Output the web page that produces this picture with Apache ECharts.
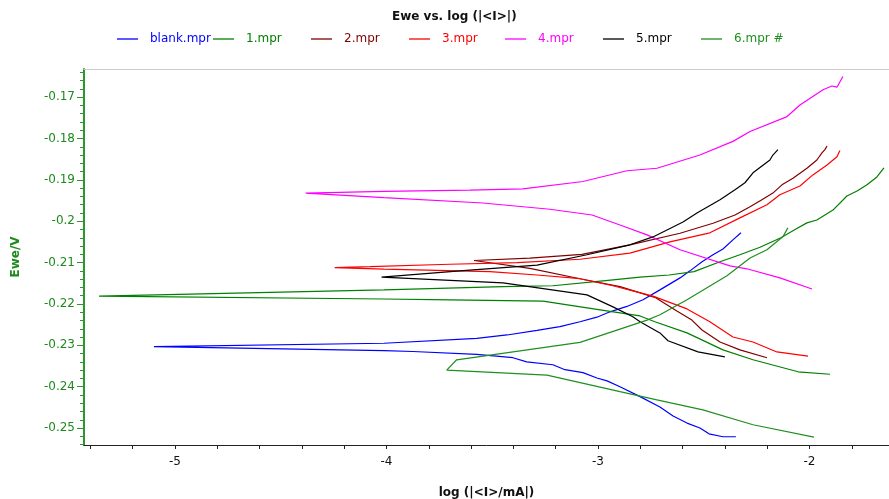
<!DOCTYPE html>
<html><head><meta charset="utf-8">
<script src="https://cdn.jsdelivr.net/npm/echarts@6/dist/echarts.min.js"></script>
<style>html,body{margin:0;padding:0;background:#fff}#c{width:889px;height:499px}</style>
</head><body><div id="c"></div>
<script>
// ---- data (log|I| in mA, Ewe in V) ----
const seriesNames = ['blank.mpr','1.mpr','2.mpr','3.mpr','4.mpr','5.mpr','6.mpr #'];
const seriesColors = ['#0000ff','#008000','#800000','#ff0000','#ff00ff','#000000','#1f8f1f'];

const blank = [[-2.348,-0.2521],[-2.409,-0.2521],[-2.475,-0.2514],[-2.518,-0.2500],[-2.579,-0.2488],[-2.645,-0.2471],[-2.707,-0.2449],[-2.801,-0.2424],[-2.896,-0.2400],[-2.957,-0.2386],[-3.005,-0.2379],[-3.071,-0.2366],[-3.156,-0.2359],[-3.213,-0.2347],[-3.337,-0.2340],[-3.402,-0.2330],[-3.573,-0.2322],[-3.875,-0.2315],[-4.012,-0.2313],[-5.099,-0.2303],[-4.012,-0.2295],[-3.573,-0.2283],[-3.430,-0.2275],[-3.288,-0.2264],[-3.180,-0.2255],[-3.085,-0.2243],[-3.005,-0.2232],[-2.943,-0.2219],[-2.863,-0.2206],[-2.787,-0.2190],[-2.707,-0.2166],[-2.612,-0.2137],[-2.565,-0.2120],[-2.508,-0.2098],[-2.456,-0.2081],[-2.409,-0.2067],[-2.362,-0.2045],[-2.324,-0.2028]];

const mpr1 = [[-1.903,-0.2370],[-2.054,-0.2364],[-2.267,-0.2335],[-2.409,-0.2311],[-2.579,-0.2270],[-2.731,-0.2243],[-2.801,-0.2229],[-2.943,-0.2218],[-3.260,-0.2193],[-3.700,-0.2190],[-4.012,-0.2188],[-5.359,-0.2181],[-4.012,-0.2166],[-3.449,-0.2158],[-3.213,-0.2156],[-2.976,-0.2144],[-2.801,-0.2135],[-2.664,-0.2130],[-2.546,-0.2122],[-2.423,-0.2098],[-2.329,-0.2081],[-2.234,-0.2063],[-2.135,-0.2040],[-2.064,-0.2019],[-2.012,-0.2004],[-1.965,-0.1997],[-1.889,-0.1973],[-1.823,-0.1939],[-1.775,-0.1927],[-1.728,-0.1912],[-1.681,-0.1893],[-1.648,-0.1871]];

const mpr2 = [[-2.201,-0.2330],[-2.329,-0.2311],[-2.423,-0.2292],[-2.508,-0.2263],[-2.556,-0.2239],[-2.627,-0.2217],[-2.731,-0.2184],[-2.896,-0.2158],[-3.085,-0.2139],[-3.322,-0.2114],[-3.586,-0.2095],[-3.322,-0.2089],[-3.076,-0.2080],[-2.849,-0.2057],[-2.612,-0.2029],[-2.456,-0.2005],[-2.352,-0.1985],[-2.281,-0.1965],[-2.225,-0.1948],[-2.173,-0.1932],[-2.130,-0.1912],[-2.078,-0.1896],[-2.012,-0.1872],[-1.965,-0.1852],[-1.941,-0.1835],[-1.927,-0.1827],[-1.917,-0.1818]];

const mpr3 = [[-2.007,-0.2326],[-2.154,-0.2316],[-2.267,-0.2292],[-2.362,-0.2280],[-2.471,-0.2243],[-2.579,-0.2212],[-2.740,-0.2181],[-2.929,-0.2156],[-3.085,-0.2139],[-3.288,-0.2130],[-3.511,-0.2122],[-4.012,-0.2116],[-4.245,-0.2112],[-4.078,-0.2110],[-3.700,-0.2104],[-3.383,-0.2100],[-3.085,-0.2092],[-2.849,-0.2077],[-2.660,-0.2050],[-2.471,-0.2028],[-2.329,-0.1992],[-2.201,-0.1960],[-2.140,-0.1936],[-2.045,-0.1915],[-1.984,-0.1888],[-1.917,-0.1864],[-1.870,-0.1844],[-1.856,-0.1829]];

const mpr4 = [[-1.988,-0.2164],[-2.140,-0.2137],[-2.296,-0.2115],[-2.376,-0.2108],[-2.612,-0.2069],[-2.768,-0.2033],[-2.896,-0.2009],[-3.028,-0.1985],[-3.227,-0.1971],[-3.544,-0.1956],[-4.012,-0.1943],[-4.382,-0.1932],[-4.012,-0.1928],[-3.605,-0.1925],[-3.355,-0.1922],[-3.071,-0.1904],[-2.863,-0.1878],[-2.721,-0.1872],[-2.518,-0.1840],[-2.362,-0.1807],[-2.281,-0.1783],[-2.106,-0.1747],[-2.045,-0.1719],[-1.936,-0.1682],[-1.894,-0.1673],[-1.870,-0.1676],[-1.842,-0.1650]];

const mpr5 = [[-2.400,-0.2328],[-2.527,-0.2316],[-2.669,-0.2289],[-2.707,-0.2270],[-2.801,-0.2243],[-2.835,-0.2231],[-2.929,-0.2207],[-3.052,-0.2178],[-3.449,-0.2149],[-4.023,-0.2135],[-3.653,-0.2120],[-3.288,-0.2106],[-3.052,-0.2081],[-2.849,-0.2057],[-2.740,-0.2038],[-2.598,-0.2002],[-2.532,-0.1980],[-2.423,-0.1948],[-2.352,-0.1924],[-2.305,-0.1907],[-2.267,-0.1883],[-2.187,-0.1852],[-2.173,-0.1840],[-2.149,-0.1827]];

const mpr6 = [[-1.979,-0.2522],[-2.267,-0.2492],[-2.504,-0.2456],[-2.721,-0.2432],[-2.896,-0.2412],[-3.241,-0.2372],[-3.715,-0.2360],[-3.668,-0.2335],[-3.085,-0.2293],[-2.896,-0.2261],[-2.768,-0.2239],[-2.707,-0.2226],[-2.579,-0.2190],[-2.390,-0.2132],[-2.281,-0.2089],[-2.201,-0.2069],[-2.125,-0.2037],[-2.102,-0.2016]];

const allData = [blank, mpr1, mpr2, mpr3, mpr4, mpr5, mpr6];

const xLabelValues = [-5, -4, -3, -2];
const xTickValues = [-5.4,-5.2,-5,-4.8,-4.6,-4.4,-4.2,-4,-3.8,-3.6,-3.4,-3.2,-3,-2.8,-2.6,-2.4,-2.2,-2,-1.8];
const yLabelValues = [-0.25,-0.24,-0.23,-0.22,-0.21,-0.2,-0.19,-0.18,-0.17];
const yMinorValues = [-0.254,-0.252,-0.25,-0.248,-0.246,-0.244,-0.242,-0.24,-0.238,-0.236,-0.234,-0.232,-0.23,-0.228,-0.226,-0.224,-0.222,-0.22,-0.218,-0.216,-0.214,-0.212,-0.21,-0.208,-0.206,-0.204,-0.202,-0.2,-0.198,-0.196,-0.194,-0.192,-0.19,-0.188,-0.186,-0.184,-0.182,-0.18,-0.178,-0.176,-0.174,-0.172,-0.17,-0.168,-0.166,-0.164];

const X_MIN = -5.43, X_MAX = -1.624, Y_MIN = -0.2541, Y_MAX = -0.1632;
const FONT = 'DejaVu Sans';
const GREEN_AXIS = '#2f962f';
const GREEN_TEXT = '#1e8a1e';

const legendLeft = [117, 213, 311, 409, 505, 603, 701];

const chart = echarts.init(document.getElementById('c'), null, {renderer: 'canvas'});
const option = {
  animation: false,
  backgroundColor: '#ffffff',
  title: {
    text: 'Ewe vs. log (|<I>|)', left: 392, top: 11, padding: 0,
    textStyle: {fontFamily: FONT, fontSize: 12, fontWeight: 'bold', color: '#111'}
  },
  legend: seriesNames.map((n, i) => ({
    data: [{name: n, textStyle: {color: seriesColors[i]}}],
    left: legendLeft[i], top: 33, padding: 0,
    icon: 'rect', itemWidth: 21, itemHeight: 1.3,
    textStyle: {fontFamily: FONT, fontSize: 12, padding: [0, 0, 0, 7]}
  })),
  grid: {left: 84, right: 0, top: 69, bottom: 54, containLabel: false, outerBoundsMode: 'none'},
  xAxis: [{
    type: 'value', min: X_MIN, max: X_MAX, position: 'bottom',
    name: 'log (|<I>/mA|)', nameLocation: 'middle', nameGap: 42,
    nameTextStyle: {fontFamily: FONT, fontSize: 12, fontWeight: 'bold', color: '#111'},
    axisLine: {show: true, onZero: false, lineStyle: {color: '#222', width: 1}},
    axisTick: {show: true, customValues: xTickValues, length: 4, lineStyle: {color: '#222'}},
    axisLabel: {show: true, customValues: xLabelValues, margin: 11, color: '#111', fontFamily: FONT, fontSize: 12,
      formatter: v => String(v)},
    splitLine: {show: false}
  }, {
    type: 'value', min: X_MIN, max: X_MAX, position: 'top',
    axisLine: {show: true, onZero: false, lineStyle: {color: '#cccccc', width: 1}},
    axisTick: {show: false}, axisLabel: {show: false}, splitLine: {show: false}
  }],
  yAxis: [{
    type: 'value', min: Y_MIN, max: Y_MAX, position: 'left',
    name: 'Ewe/V', nameLocation: 'middle', nameGap: 62, nameRotate: 90,
    nameTextStyle: {fontFamily: FONT, fontSize: 12, fontWeight: 'bold', color: GREEN_TEXT},
    axisLine: {show: true, onZero: false, lineStyle: {color: GREEN_AXIS, width: 2}},
    axisTick: {show: true, customValues: yLabelValues, length: 7, lineStyle: {color: GREEN_AXIS}},
    axisLabel: {show: true, customValues: yLabelValues, margin: 9, color: GREEN_TEXT, fontFamily: FONT, fontSize: 12,
      formatter: v => String(+v.toFixed(3))},
    splitLine: {show: false}
  }, {
    type: 'value', min: Y_MIN, max: Y_MAX, position: 'left',
    axisLine: {show: false, onZero: false},
    axisTick: {show: true, customValues: yMinorValues, length: 4, lineStyle: {color: GREEN_AXIS}},
    axisLabel: {show: false}, splitLine: {show: false}
  }],
  series: seriesNames.map((n, i) => ({
    name: n, type: 'line', xAxisIndex: 0, yAxisIndex: 0,
    data: allData[i], symbol: 'none', showSymbol: false, smooth: false,
    lineStyle: {color: seriesColors[i], width: 1.2},
    itemStyle: {color: seriesColors[i]},
    emphasis: {disabled: true}
  }))
};
chart.setOption(option);
</script>
</body></html>
